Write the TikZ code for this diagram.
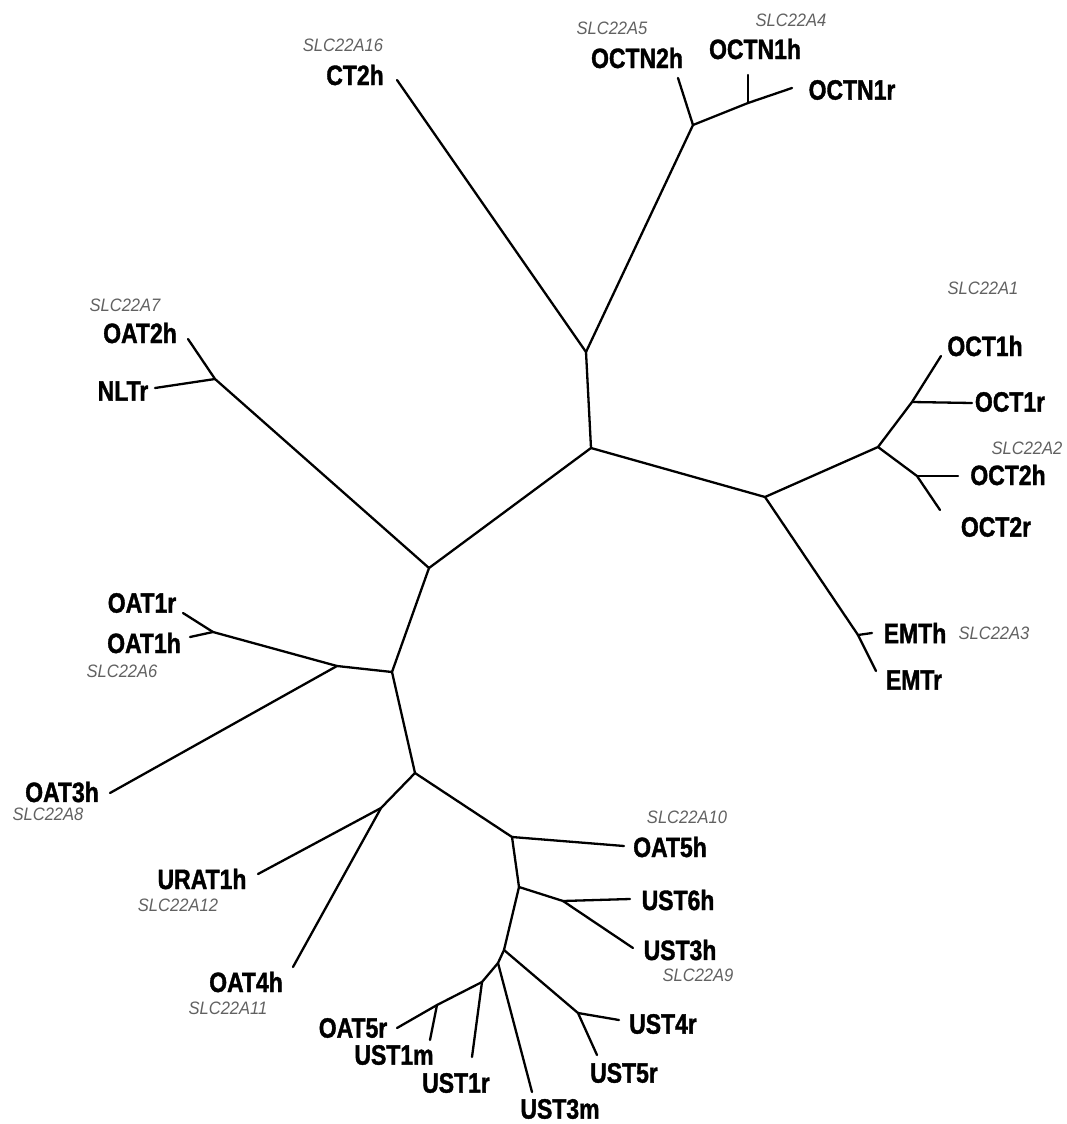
\documentclass[tikz,border=0pt]{standalone}
\usepackage{fontspec}
\usepackage{tikz}
\newfontfamily\leaffont{Liberation Sans}[FakeStretch=0.82,FakeBold=1.3]
\newfontfamily\genefont{Liberation Sans}[FakeStretch=0.92]
\tikzset{
  leaf/.style ={inner sep=0pt, font=\leaffont\bfseries\fontsize{28}{30}\selectfont},
  gene/.style ={inner sep=0pt, text=black!62, font=\genefont\itshape\fontsize{18}{20}\selectfont},
  br/.style   ={line width=2.3pt, line cap=round, line join=round}
}

\begin{document}
\begin{tikzpicture}[x=1pt,y=-1pt]
  \useasboundingbox (0,0) rectangle (1066,1124);

  % inner nodes of the tree
  \coordinate (A) at (591,448);
  \coordinate (B) at (586,352);
  \coordinate (octn) at (693,125);
  \coordinate (octn1) at (748,103);
  \coordinate (C) at (765,497);
  \coordinate (oct) at (878,447);
  \coordinate (oct1) at (912,402);
  \coordinate (oct2) at (917,476);
  \coordinate (emt) at (858,635);
  \coordinate (D) at (429,568);
  \coordinate (nlt) at (215,379);
  \coordinate (E) at (392,672);
  \coordinate (F) at (337,666);
  \coordinate (oat1) at (213,632);
  \coordinate (G) at (415,773);
  \coordinate (H) at (381,808);
  \coordinate (I) at (512,837);
  \coordinate (J) at (519,887);
  \coordinate (K) at (563,901);
  \coordinate (L) at (504,950);
  \coordinate (M) at (578,1013);
  \coordinate (N) at (498,963);
  \coordinate (O) at (482,982);
  \coordinate (P) at (437,1005);

  % branch tips
  \coordinate (tCT2h) at (397,80);
  \coordinate (tOCTN2h) at (678,78);
  \coordinate (tOCTN1h) at (748,75);
  \coordinate (tOCTN1r) at (792,88);
  \coordinate (tOCT1h) at (941,356);
  \coordinate (tOCT1r) at (972,403);
  \coordinate (tOCT2h) at (958,476);
  \coordinate (tOCT2r) at (940,510);
  \coordinate (tEMTh) at (872,633);
  \coordinate (tEMTr) at (876,671);
  \coordinate (tOAT2h) at (188,339);
  \coordinate (tNLTr) at (155,388);
  \coordinate (tOAT1r) at (183,613);
  \coordinate (tOAT1h) at (190,637);
  \coordinate (tOAT3h) at (110,793);
  \coordinate (tURAT1h) at (258,874);
  \coordinate (tOAT4h) at (293,967);
  \coordinate (tOAT5h) at (624,846);
  \coordinate (tUST6h) at (630,899);
  \coordinate (tUST3h) at (633,948);
  \coordinate (tUST4r) at (619,1020);
  \coordinate (tUST5r) at (597,1055);
  \coordinate (tUST3m) at (532,1092);
  \coordinate (tUST1r) at (472,1057);
  \coordinate (tOAT5r) at (397,1028);
  \coordinate (tUST1m) at (430,1040);

  % labels
  \node[leaf] (CT2h) at (355,75) {CT2h};
  \node[gene] (g16) at (343,45) {SLC22A16};
  \node[leaf] (OCTN2h) at (637,58) {OCTN2h};
  \node[gene] (g5) at (612,28) {SLC22A5};
  \node[leaf] (OCTN1h) at (755,49) {OCTN1h};
  \node[gene] (g4) at (791,20) {SLC22A4};
  \node[leaf] (OCTN1r) at (852,90) {OCTN1r};
  \node[gene] (g1) at (983,288) {SLC22A1};
  \node[leaf] (OCT1h) at (985,346) {OCT1h};
  \node[leaf] (OCT1r) at (1010,402) {OCT1r};
  \node[gene] (g2) at (1027,448) {SLC22A2};
  \node[leaf] (OCT2h) at (1008,475) {OCT2h};
  \node[leaf] (OCT2r) at (996,527) {OCT2r};
  \node[leaf] (EMTh) at (915,633) {EMTh};
  \node[gene] (g3) at (994,633) {SLC22A3};
  \node[leaf] (EMTr) at (914,680) {EMTr};
  \node[gene] (g7) at (125,305) {SLC22A7};
  \node[leaf] (OAT2h) at (140,333) {OAT2h};
  \node[leaf] (NLTr) at (123,391) {NLTr};
  \node[leaf] (OAT1r) at (142,603) {OAT1r};
  \node[leaf] (OAT1h) at (144,643) {OAT1h};
  \node[gene] (g6) at (122,671) {SLC22A6};
  \node[leaf] (OAT3h) at (62,792) {OAT3h};
  \node[gene] (g8) at (48,814) {SLC22A8};
  \node[leaf] (URAT1h) at (202,879) {URAT1h};
  \node[gene] (g12) at (178,905) {SLC22A12};
  \node[leaf] (OAT4h) at (246,982) {OAT4h};
  \node[gene] (g11) at (228,1008) {SLC22A11};
  \node[gene] (g10) at (687,817) {SLC22A10};
  \node[leaf] (OAT5h) at (670,847) {OAT5h};
  \node[leaf] (UST6h) at (678,900) {UST6h};
  \node[leaf] (UST3h) at (680,950) {UST3h};
  \node[gene] (g9) at (698,975) {SLC22A9};
  \node[leaf] (UST4r) at (663,1024) {UST4r};
  \node[leaf] (UST5r) at (624,1073) {UST5r};
  \node[leaf] (OAT5r) at (353,1028) {OAT5r};
  \node[leaf] (UST1m) at (394,1055) {UST1m};
  \node[leaf] (UST1r) at (456,1083) {UST1r};
  \node[leaf] (UST3m) at (560,1109) {UST3m};

  % branches
  \draw[br](A)--(B);\draw[br](B)--(tCT2h);\draw[br](B)--(octn);
  \draw[br](octn)--(tOCTN2h);\draw[br](octn)--(octn1);
  \draw[br](octn1)--(tOCTN1h);\draw[br](octn1)--(tOCTN1r);
  \draw[br](A)--(C);\draw[br](C)--(oct);
  \draw[br](oct)--(oct1);\draw[br](oct1)--(tOCT1h);\draw[br](oct1)--(tOCT1r);
  \draw[br](oct)--(oct2);\draw[br](oct2)--(tOCT2h);\draw[br](oct2)--(tOCT2r);
  \draw[br](C)--(emt);\draw[br](emt)--(tEMTh);\draw[br](emt)--(tEMTr);
  \draw[br](A)--(D);\draw[br](D)--(nlt);
  \draw[br](nlt)--(tOAT2h);\draw[br](nlt)--(tNLTr);
  \draw[br](D)--(E);\draw[br](E)--(F);
  \draw[br](F)--(oat1);\draw[br](oat1)--(tOAT1r);\draw[br](oat1)--(tOAT1h);
  \draw[br](F)--(tOAT3h);
  \draw[br](E)--(G);\draw[br](G)--(H);
  \draw[br](H)--(tURAT1h);\draw[br](H)--(tOAT4h);
  \draw[br](G)--(I);\draw[br](I)--(tOAT5h);\draw[br](I)--(J);
  \draw[br](J)--(K);\draw[br](K)--(tUST6h);\draw[br](K)--(tUST3h);
  \draw[br](J)--(L);\draw[br](L)--(M);
  \draw[br](M)--(tUST4r);\draw[br](M)--(tUST5r);
  \draw[br](L)--(N);\draw[br](N)--(tUST3m);\draw[br](N)--(O);
  \draw[br](O)--(tUST1r);\draw[br](O)--(P);
  \draw[br](P)--(tOAT5r);\draw[br](P)--(tUST1m);
\end{tikzpicture}
\end{document}
